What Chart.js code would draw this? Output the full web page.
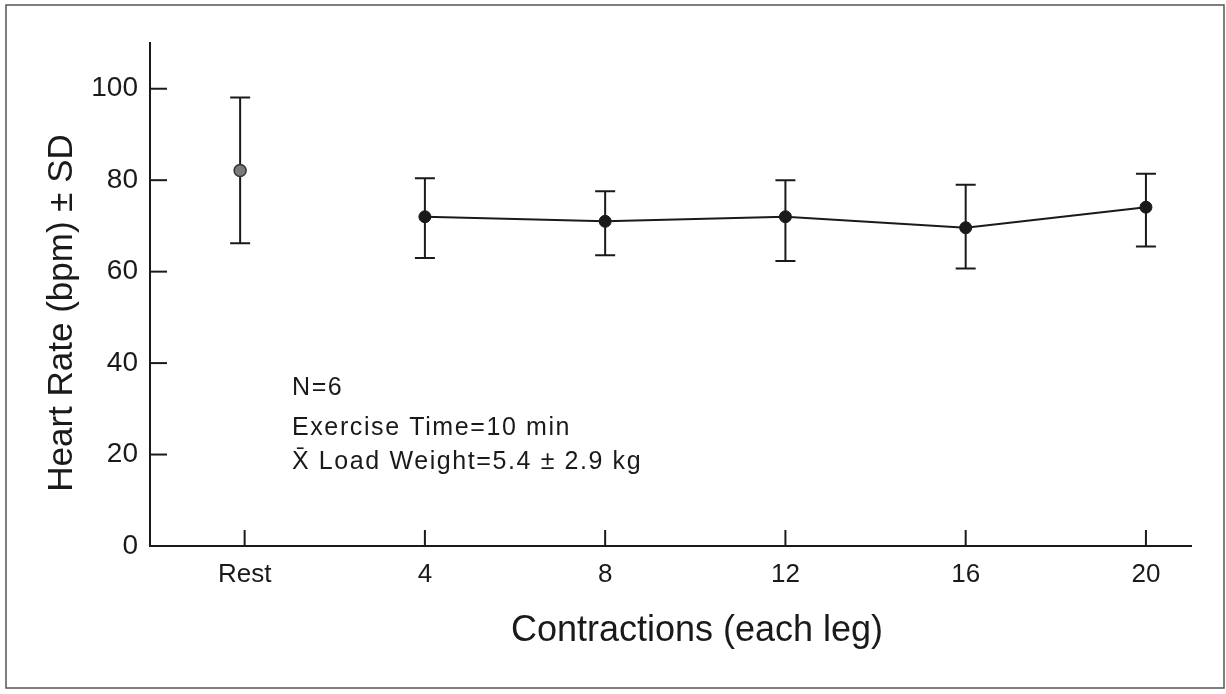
<!DOCTYPE html>
<html>
<head>
<meta charset="utf-8">
<script src="https://cdn.jsdelivr.net/npm/chart.js@4"></script>
<style>
  html, body { margin: 0; padding: 0; background: #fff; }
  #wrap { width: 1226px; height: 694px; position: relative; }
</style>
</head>
<body>
<div id="wrap"><canvas id="canvas_hr" width="1226" height="694"></canvas></div>
<script>
// heart rate vs contractions
var xTicks = [0, 4, 8, 12, 16, 20];
var xTickLabels = ["Rest", "4", "8", "12", "16", "20"];
var yTicks = [0, 20, 40, 60, 80, 100];

var restX = [-0.1];
var restMean = [82.1];
var restHigh = [98.1];
var restLow = [66.2];

var exX = [4, 8, 12, 16, 20];
var exMean = [72.0, 71.0, 72.0, 69.6, 74.1];
var exHigh = [80.4, 77.6, 80.0, 79.0, 81.4];
var exLow = [63.0, 63.6, 62.3, 60.7, 65.5];

var notes = ["N=6", "Exercise Time=10 min", "X\u0304 Load Weight=5.4 \u00b1 2.9 kg"];

var fontFam = "'Liberation Sans', Arial, Helvetica, sans-serif";
var ink = "#1a1a1a";

function toPoints(xs, ys) {
	var out = [];
	for (var i = 0; i < xs.length; i++) {
		out.push({ x : xs[i], y : ys[i] });
	}
	return out;
}

// error bars + inward ticks + text
var extras = {
	id : "extras",
	beforeDatasetsDraw : function(chart) {
		var ctx = chart.ctx;
		var xs = chart.scales.x, ys = chart.scales.y;
		var sets = [ [ restX, restHigh, restLow ], [ exX, exHigh, exLow ] ];
		ctx.save();
		ctx.strokeStyle = ink;
		ctx.lineWidth = 2;
		sets.forEach(function(s) {
			for (var i = 0; i < s[0].length; i++) {
				var px = xs.getPixelForValue(s[0][i]);
				var top = ys.getPixelForValue(s[1][i]);
				var bot = ys.getPixelForValue(s[2][i]);
				ctx.beginPath();
				ctx.moveTo(px, top);
				ctx.lineTo(px, bot);
				ctx.moveTo(px - 10, top);
				ctx.lineTo(px + 10, top);
				ctx.moveTo(px - 10, bot);
				ctx.lineTo(px + 10, bot);
				ctx.stroke();
			}
		});
		ctx.restore();
	},
	afterDraw : function(chart) {
		var ctx = chart.ctx;
		var xs = chart.scales.x, ys = chart.scales.y;
		var area = chart.chartArea;
		ctx.save();
		ctx.strokeStyle = ink;
		ctx.lineWidth = 2;
		// ticks pointing into the plot
		yTicks.forEach(function(v) {
			var py = ys.getPixelForValue(v);
			ctx.beginPath();
			ctx.moveTo(area.left, py);
			ctx.lineTo(area.left + 17, py);
			ctx.stroke();
		});
		xTicks.forEach(function(v) {
			var px = xs.getPixelForValue(v);
			ctx.beginPath();
			ctx.moveTo(px, area.bottom);
			ctx.lineTo(px, area.bottom - 16);
			ctx.stroke();
		});

		// axis titles
		ctx.fillStyle = ink;
		ctx.font = "36px " + fontFam;
		ctx.textAlign = "center";
		ctx.textBaseline = "alphabetic";
		ctx.fillText("Contractions (each leg)", 697, 641);
		ctx.font = "35px " + fontFam;
		ctx.save();
		ctx.translate(72, 313);
		ctx.rotate(-Math.PI / 2);
		ctx.fillText("Heart Rate (bpm) \u00b1 SD", 0, 0);
		ctx.restore();

		// notes
		ctx.font = "25px " + fontFam;
		ctx.textAlign = "left";
		ctx.letterSpacing = "1.6px";
		var base = [ 395, 435, 469 ];
		for (var i = 0; i < notes.length; i++) {
			ctx.fillText(notes[i], 292, base[i]);
		}
		ctx.letterSpacing = "0px";

		// frame round the figure
		ctx.strokeStyle = "#555";
		ctx.lineWidth = 1.5;
		ctx.strokeRect(6, 5, 1218, 683);
		ctx.restore();
	}
};

var hrChart = new Chart(document.getElementById("canvas_hr"), {
	type : "scatter",
	data : {
		datasets : [ {
			label : "Rest",
			data : toPoints(restX, restMean),
			showLine : false,
			pointRadius : 6,
			pointBackgroundColor : "#7a7a7a",
			pointBorderColor : "#333",
			pointBorderWidth : 1.5
		}, {
			label : "Exercise",
			data : toPoints(exX, exMean),
			showLine : true,
			borderColor : ink,
			borderWidth : 2,
			pointRadius : 6,
			pointBackgroundColor : ink,
			pointBorderColor : ink,
			pointBorderWidth : 1
		} ]
	},
	options : {
		responsive : false,
		animation : false,
		layout : {
			padding : { top : 43, right : 35, left : 0, bottom : 0 }
		},
		plugins : {
			legend : { display : false },
			tooltip : { enabled : false }
		},
		scales : {
			x : {
				type : "linear",
				min : -2.1,
				max : 21,
				afterBuildTicks : function(scale) {
					scale.ticks = xTicks.map(function(v) { return { value : v }; });
				},
				afterFit : function(scale) { scale.height = 148; },
				ticks : {
					padding : 13,
					color : ink,
					font : { family : fontFam, size : 26 },
					callback : function(v) {
						var i = xTicks.indexOf(v);
						return i >= 0 ? xTickLabels[i] : "";
					}
				},
				grid : { display : true, drawOnChartArea : false, drawTicks : false },
				border : { display : true, color : ink, width : 2 }
			},
			y : {
				min : 0,
				max : 110,
				afterBuildTicks : function(scale) {
					scale.ticks = yTicks.map(function(v) { return { value : v }; });
				},
				afterFit : function(scale) { scale.width = 150; },
				ticks : {
					padding : 12,
					color : ink,
					font : { family : fontFam, size : 28 }
				},
				grid : { display : true, drawOnChartArea : false, drawTicks : false },
				border : { display : true, color : ink, width : 2 }
			}
		}
	},
	plugins : [ extras ]
});
</script>
</body>
</html>
